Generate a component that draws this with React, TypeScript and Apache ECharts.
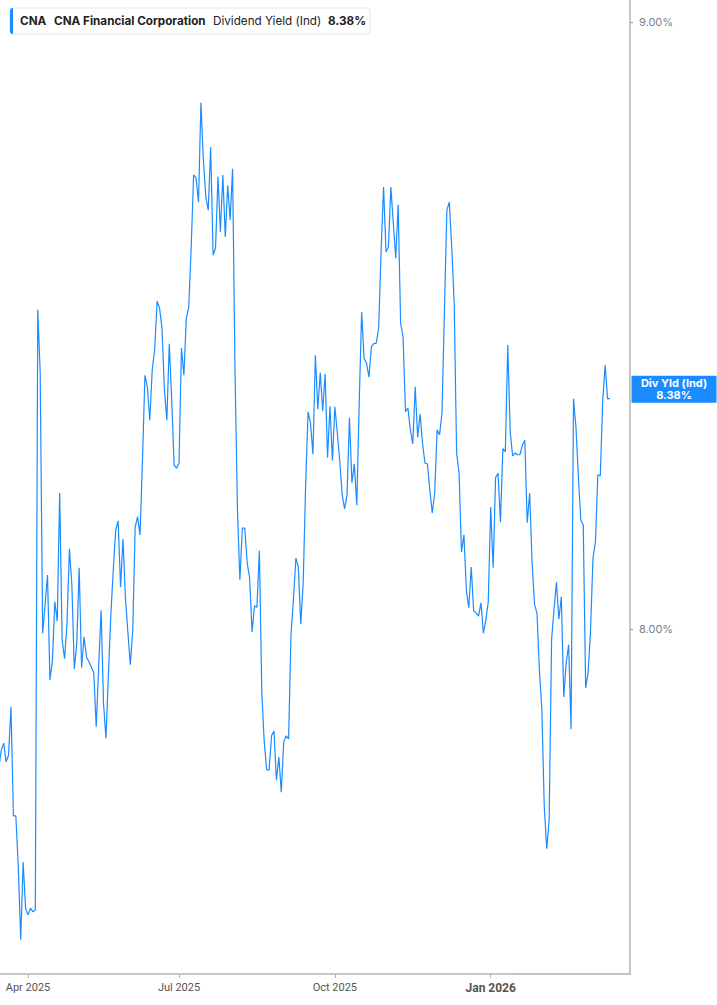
import { useRef, useEffect } from 'react'
import * as echarts from 'echarts'

const BLUE = '#1a8cff'

// dividend yield (%), one value per trading day, grouped by month
const mar25 = [7.771, 7.800, 7.812, 7.781, 7.792, 7.872, 7.692, 7.692, 7.608, 7.488, 7.616, 7.539]
const apr25 = [7.529, 7.540, 7.534, 7.537, 8.526, 8.422, 7.993, 8.040, 8.089, 7.916, 7.947, 8.045, 8.013, 8.224, 7.982, 7.951, 8.010, 8.132, 8.073, 7.934, 7.975]
const may25 = [8.101, 7.936, 7.987, 7.954, 7.946, 7.937, 7.928, 7.839, 7.936, 8.031, 7.878, 7.820, 7.924, 8.023, 8.097, 8.163, 8.178, 8.069, 8.148, 8.051, 7.995]
const jun25 = [7.941, 7.998, 8.168, 8.185, 8.155, 8.278, 8.418, 8.399, 8.344, 8.427, 8.460, 8.540, 8.529, 8.496, 8.394, 8.344, 8.470, 8.377, 8.270, 8.265]
const jul25 = [8.273, 8.463, 8.418, 8.512, 8.530, 8.629, 8.748, 8.743, 8.703, 8.867, 8.773, 8.712, 8.690, 8.794, 8.616, 8.628, 8.745, 8.654, 8.748, 8.646, 8.731, 8.674]
const aug25 = [8.758, 8.425, 8.196, 8.081, 8.166, 8.166, 8.109, 8.084, 7.995, 8.038, 8.036, 8.129, 7.895, 7.814, 7.768, 7.768, 7.824, 7.832, 7.751, 7.789, 7.731]
const sep25 = [7.814, 7.824, 7.819, 7.992, 8.049, 8.117, 8.102, 8.008, 8.077, 8.237, 8.358, 8.339, 8.288, 8.451, 8.362, 8.422, 8.359, 8.420, 8.282, 8.367, 8.277]
const oct25 = [8.366, 8.323, 8.278, 8.221, 8.198, 8.221, 8.348, 8.241, 8.272, 8.204, 8.372, 8.522, 8.446, 8.438, 8.415, 8.465, 8.470, 8.471, 8.496, 8.624, 8.728, 8.621, 8.629]
const nov25 = [8.728, 8.669, 8.611, 8.699, 8.504, 8.481, 8.358, 8.364, 8.328, 8.305, 8.399, 8.316, 8.354, 8.306, 8.273, 8.272, 8.229, 8.191, 8.224]
const dec25 = [8.328, 8.320, 8.356, 8.526, 8.690, 8.703, 8.629, 8.537, 8.290, 8.257, 8.127, 8.155, 8.064, 8.035, 8.102, 8.030, 8.026, 8.021, 8.043, 7.993, 8.015, 8.045]
const jan26 = [8.201, 8.101, 8.249, 8.257, 8.176, 8.297, 8.292, 8.468, 8.325, 8.285, 8.290, 8.287, 8.287, 8.303, 8.311, 8.175, 8.224, 8.109, 8.040, 8.026]
const feb26 = [7.932, 7.867, 7.707, 7.638, 7.685, 7.982, 8.033, 8.077, 8.016, 8.053, 7.888, 7.944, 7.974, 7.835, 8.379, 8.333, 8.250, 8.180, 8.171]
const mar26 = [7.903, 7.928, 7.998, 8.117, 8.143, 8.254, 8.252, 8.377, 8.435, 8.379, 8.38]

const yields = [...mar25, ...apr25, ...may25, ...jun25, ...jul25, ...aug25, ...sep25, ...oct25, ...nov25, ...dec25, ...jan26, ...feb26, ...mar26]

const firstDay = [2025, 2, 14]
const marketHolidays = ['2025-04-18', '2025-05-26', '2025-06-19', '2025-07-04', '2025-09-01', '2025-11-27', '2025-12-25', '2026-01-01', '2026-01-19', '2026-02-16']

// quarter starts that get a label: [year, month]
const xTicks = [[2025, 3], [2025, 6], [2025, 9], [2026, 0]]
const yTicks = [8, 9]
const monthNames = ['Jan', 'Feb', 'Mar', 'Apr', 'May', 'Jun', 'Jul', 'Aug', 'Sep', 'Oct', 'Nov', 'Dec']

const ticker = 'CNA'
const company = 'CNA Financial Corporation'
const metric = 'Dividend Yield (Ind)'
const lastLabel = '8.38%'

function ymd(d: Date) {
  const m = String(d.getMonth() + 1).padStart(2, '0')
  const day = String(d.getDate()).padStart(2, '0')
  return `${d.getFullYear()}-${m}-${day}`
}

// walk weekdays from the first date, skipping exchange holidays
function tradingDays(count: number) {
  const out: Date[] = []
  const d = new Date(firstDay[0], firstDay[1], firstDay[2])
  while (out.length < count) {
    const wd = d.getDay()
    if (wd !== 0 && wd !== 6 && !marketHolidays.includes(ymd(d))) out.push(new Date(d))
    d.setDate(d.getDate() + 1)
  }
  return out
}

export default function App() {
  const containerRef = useRef<HTMLDivElement>(null)

  useEffect(() => {
    const el = containerRef.current
    if (!el) return
    const chart = echarts.init(el, null, { renderer: 'svg' })

    // the x axis is the trading-day index, so sessions sit evenly apart
    const days = tradingDays(yields.length)
    const points = yields.map((v, i) => [i, v])
    const tickIdx = xTicks.map(([y, m]) => days.findIndex(d => d.getFullYear() === y && d.getMonth() === m))

    const textStyle = { fontFamily: 'Inter', fontSize: 11.7, fill: '#222', verticalAlign: 'middle' as const }

    chart.setOption({
      animation: false,
      backgroundColor: '#fff',
      grid: { left: 0, right: 87, top: 0, bottom: 31 },
      xAxis: {
        type: 'value',
        min: 0.49,
        max: 259.2,
        axisLine: { show: true, lineStyle: { color: '#b3b3b3', width: 1.5 } },
        axisTick: { show: true, length: 4, lineStyle: { color: '#b3b3b3' }, customValues: tickIdx },
        axisLabel: {
          margin: 8,
          fontFamily: 'Roboto',
          fontSize: 11,
          color: '#555',
          customValues: tickIdx,
          formatter: (v: number) => {
            const d = days[Math.round(v)]
            const s = `${monthNames[d.getMonth()]} ${d.getFullYear()}`
            return d.getMonth() === 0 ? `{yr|${s}}` : s
          },
          rich: { yr: { fontFamily: 'Roboto', fontSize: 12, fontWeight: 'bold', color: '#555' } }
        },
        splitLine: { show: false }
      },
      yAxis: {
        type: 'value',
        position: 'right',
        min: 7.4316,
        max: 9.0362,
        axisLine: { show: true, lineStyle: { color: '#b3b3b3', width: 1.5 } },
        axisTick: { show: true, length: 3, lineStyle: { color: '#999' }, customValues: yTicks },
        axisLabel: {
          margin: 9,
          fontFamily: 'Inter',
          fontSize: 11,
          color: '#7a7f88',
          customValues: yTicks,
          formatter: (v: number) => `${v.toFixed(2)}%`
        },
        splitLine: { show: false }
      },
      series: [{
        type: 'line',
        data: points,
        symbol: 'none',
        lineStyle: { color: BLUE, width: 1.2 },
        endLabel: {
          show: true,
          distance: 64,
          offset: [0, -9],
          formatter: `Div Yld (Ind)\n${lastLabel}`,
          backgroundColor: BLUE,
          color: '#fff',
          fontFamily: 'Inter',
          fontSize: 11,
          fontWeight: 'bold',
          lineHeight: 12,
          width: 77,
          align: 'center',
          padding: [2, 4, 1, 4]
        }
      }],
      graphic: [
        {
          type: 'rect',
          shape: { x: 10, y: 8, width: 360, height: 26, r: 3 },
          style: { fill: '#fff', stroke: '#e6e6e6', lineWidth: 1 }
        },
        {
          type: 'rect',
          shape: { x: 10, y: 8, width: 3, height: 26, r: [3, 0, 0, 3] },
          style: { fill: BLUE }
        },
        { type: 'text', x: 20, y: 21, style: { ...textStyle, text: ticker, fontWeight: 'bold' } },
        { type: 'text', x: 54, y: 21, style: { ...textStyle, text: company, fontWeight: 'bold' } },
        { type: 'text', x: 213, y: 21, style: { ...textStyle, text: metric } },
        { type: 'text', x: 328, y: 21, style: { ...textStyle, text: lastLabel, fontWeight: 'bold' } }
      ]
    })

    const onResize = () => chart.resize()
    window.addEventListener('resize', onResize)
    return () => {
      window.removeEventListener('resize', onResize)
      chart.dispose()
    }
  }, [])

  return (
    <div
      ref={containerRef}
      style={{ position: 'fixed', left: 0, top: 0, width: '100vw', height: '100vh' }}
    />
  )
}
